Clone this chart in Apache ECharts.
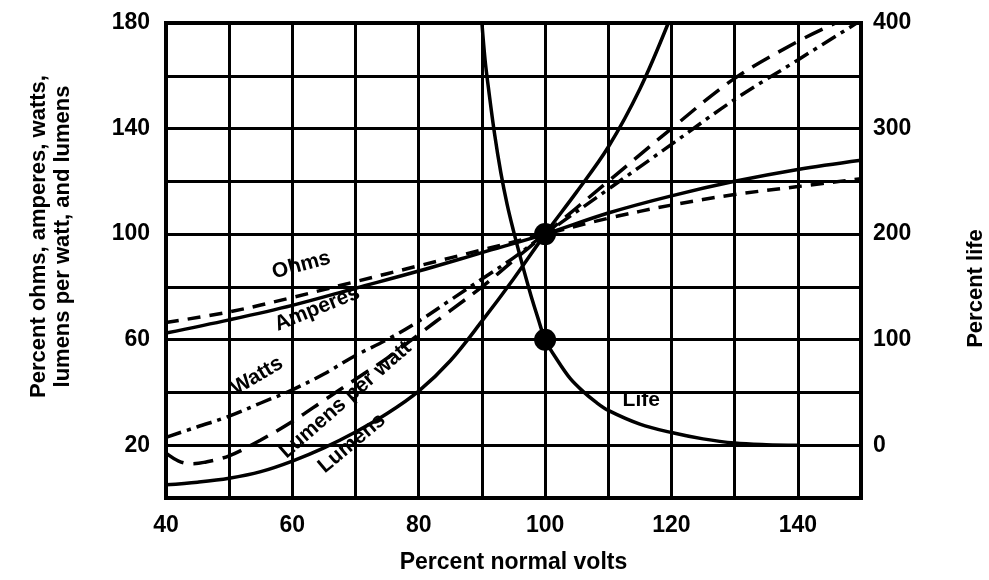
<!DOCTYPE html>
<html>
<head>
<meta charset="utf-8">
<script src="https://cdn.jsdelivr.net/npm/echarts@6/dist/echarts.min.js"></script>
<style>
html,body{margin:0;padding:0;background:#fff;}
#c{width:989px;height:580px;}
</style>
</head>
<body>
<div id="c"></div>
<script>
// ---- data ----
const xTickLabels = [40, 60, 80, 100, 120, 140];
const leftTickLabels = [20, 60, 100, 140, 180];
const rightTickLabels = [0, 100, 200, 300, 400];

const amperesX = [40, 50, 60, 70, 80, 90, 100, 110, 120, 130, 140, 150];
const amperesY = [62.5, 67.5, 73, 79.5, 86, 93, 100, 108, 114.5, 120, 124.5, 128];

const ohmsX = [40, 50, 60, 70, 80, 90, 100, 110, 120, 130, 140, 150];
const ohmsY = [66.5, 70.5, 76, 82, 88, 94, 100, 106, 111, 115, 118, 121];

const wattsX = [40, 45, 50, 55, 60, 65, 70, 75, 80, 85, 90, 95, 100, 110, 120, 130, 140, 150];
const wattsY = [23, 27, 31, 36, 41, 47, 54, 60, 67, 75, 83, 91, 100, 117, 134, 151, 166, 181];

const lpwX = [40, 42, 44, 46, 50, 55, 60, 65, 70, 75, 80, 85, 90, 95, 100, 110, 120, 130, 140, 146, 150];
const lpwY = [17, 14, 13, 13.5, 16, 22, 29, 37, 45, 53, 62, 71, 80, 90, 100, 120, 140, 159, 173, 180, 184];

const lumensX = [40, 45, 50, 55, 60, 65, 70, 75, 80, 85, 90, 95, 100, 105, 110, 115, 119.5];
const lumensY = [5, 6, 7.5, 10, 14, 19, 25, 32, 40.5, 52, 67, 83, 100, 116, 133, 155, 180];

const lifeX = [90, 90.5, 91, 92, 93, 94, 95, 96, 97, 98, 99, 100, 102, 104, 106, 108, 110, 115, 120, 125, 130, 135, 140];
const lifeY = [400, 365, 340, 295, 258, 228, 203, 180, 158, 137, 118, 100, 80, 63, 51, 41, 33, 20, 12, 6, 2, 0.5, 0];

const dotLeft = [[100, 100]];   // on left axis
const dotRight = [[100, 100]];  // on right (life) axis

// curve labels: [text, x, y(left axis), rotation]
const curveLabels = [
  ['Ohms', 61.5, 88, 15],
  ['Amperes', 64, 71.5, 22],
  ['Watts', 54.5, 46, 31],
  ['Lumens per watt', 68.5, 37, 41],
  ['Lumens', 69.5, 20.5, 40],
  ['Life', 115.3, 37, 0]
];

const pair = (xs, ys) => xs.map((x, i) => [x, ys[i]]);

const FONT = "'Liberation Sans', Arial, sans-serif";
const BLK = '#000';

const chart = echarts.init(document.getElementById('c'), null, {renderer: 'canvas'});

const lineBase = (name, data, type, yAxisIndex) => ({
  name, type: 'line', data, yAxisIndex: yAxisIndex || 0,
  smooth: 0.35, showSymbol: false, symbol: 'none', clip: true,
  lineStyle: {color: BLK, width: 3.5, type: type, cap: 'butt'},
  z: 5, animation: false
});

const option = {
  animation: false,
  backgroundColor: '#fff',
  grid: {left: 166, right: 128, top: 23, bottom: 82, show: true, borderColor: BLK, borderWidth: 4,
         backgroundColor: 'transparent', outerBoundsMode: 'none', containLabel: false},
  xAxis: {
    type: 'value', min: 40, max: 150, interval: 10,
    axisLine: {show: false}, axisTick: {show: false},
    splitLine: {show: true, lineStyle: {color: BLK, width: 3}},
    axisLabel: {
      margin: 16, color: BLK, fontFamily: FONT, fontWeight: 'bold', fontSize: 23,
      formatter: v => xTickLabels.includes(v) ? String(v) : ''
    },
    name: 'Percent normal volts', nameLocation: 'middle', nameGap: 53,
    nameTextStyle: {color: BLK, fontFamily: FONT, fontWeight: 'bold', fontSize: 23}
  },
  yAxis: [{
    type: 'value', min: 0, max: 180, interval: 20,
    axisLine: {show: false}, axisTick: {show: false},
    splitLine: {show: true, lineStyle: {color: BLK, width: 3}},
    axisLabel: {
      margin: 16, color: BLK, fontFamily: FONT, fontWeight: 'bold', fontSize: 23,
      formatter: v => leftTickLabels.includes(v) ? String(v) : ''
    },
    name: 'Percent ohms, amperes, watts,\nlumens per watt, and lumens',
    nameLocation: 'middle', nameRotate: 90, nameGap: 91,
    nameTextStyle: {color: BLK, fontFamily: FONT, fontWeight: 'bold', fontSize: 22, lineHeight: 24, align: 'center', padding: [0, 0, 0, 48]}
  }, {
    type: 'value', min: -50, max: 400, interval: 50,
    axisLine: {show: false}, axisTick: {show: false},
    splitLine: {show: false},
    axisLabel: {
      margin: 12, color: BLK, fontFamily: FONT, fontWeight: 'bold', fontSize: 23,
      formatter: v => rightTickLabels.includes(v) ? String(v) : ''
    },
    name: 'Percent life', nameLocation: 'middle', nameRotate: 90, nameGap: 104,
    nameTextStyle: {color: BLK, fontFamily: FONT, fontWeight: 'bold', fontSize: 22, padding: [0, 56, 0, 0]}
  }],
  series: [
    lineBase('Amperes', pair(amperesX, amperesY), 'solid'),
    lineBase('Ohms', pair(ohmsX, ohmsY), [13, 9]),
    lineBase('Watts', pair(wattsX, wattsY), [16, 6, 4, 6]),
    lineBase('Lumens per watt', pair(lpwX, lpwY), [20, 10]),
    lineBase('Lumens', pair(lumensX, lumensY), 'solid'),
    lineBase('Life', pair(lifeX, lifeY), 'solid', 1),
    {
      type: 'scatter', data: dotLeft, yAxisIndex: 0, symbolSize: 22,
      itemStyle: {color: BLK, opacity: 1}, z: 10, animation: false
    },
    {
      type: 'scatter', data: dotRight, yAxisIndex: 1, symbolSize: 22,
      itemStyle: {color: BLK, opacity: 1}, z: 10, animation: false
    },
    {
      type: 'scatter', yAxisIndex: 0, symbolSize: 1, z: 12, animation: false, silent: true,
      data: curveLabels.map(l => ({
        value: [l[1], l[2]],
        label: {
          show: true, position: [0, 0], align: 'center', verticalAlign: 'middle', formatter: l[0], rotate: l[3],
          color: BLK, opacity: 1, textBorderWidth: 0, fontFamily: FONT, fontWeight: 'bold', fontSize: 21
        }
      })),
      itemStyle: {color: 'rgba(0,0,0,0)', opacity: 1}
    }
  ]
};
chart.setOption(option);
</script>
</body>
</html>
